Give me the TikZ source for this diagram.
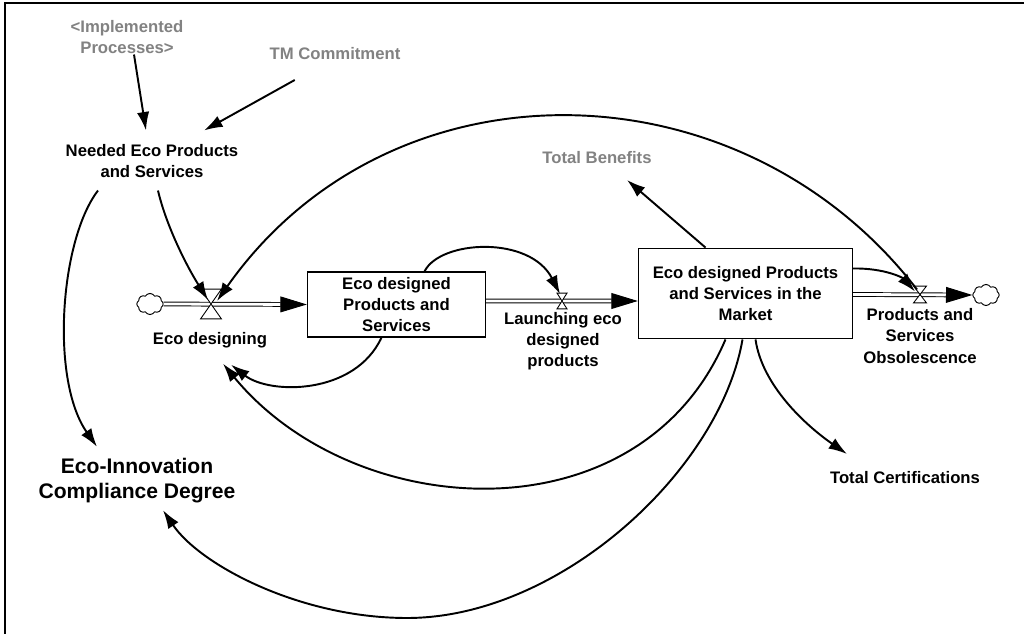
\documentclass[tikz,border=0pt]{standalone}
\usepackage{fontspec}
\setmainfont{Liberation Sans}
\usetikzlibrary{arrows.meta,calc,shapes.symbols}
\definecolor{labelgray}{RGB}{130,130,130}
\tikzset{
  lbl/.style={font=\bfseries\fontsize{9.5}{12}\selectfont, align=center, inner sep=2pt},
  aux/.style={lbl, text=labelgray},
  big/.style={font=\bfseries\fontsize{12}{14.2}\selectfont, align=center, inner sep=2pt},
  stock/.style={lbl, draw, line width=0.6pt},
  link/.style={line width=1.1pt, -{Latex[length=10.5pt,width=7pt]}},
  pipe/.style={double, double distance=1.6pt, line width=0.55pt, -{Triangle[length=15pt,width=9pt]}},
  valvebox/.style={rectangle, inner sep=0pt, outer sep=0pt},
  cloudsty/.style={cloud, cloud puffs=8, cloud puff arc=120, aspect=1.25, draw, line width=0.55pt,
    inner sep=0pt, minimum width=15pt, minimum height=12pt, fill=white},
}
% hourglass-shaped flow valve: name, position, width, height
\newcommand\flowvalve[4]{%
  \node[valvebox, minimum width=#3, minimum height=#4] (#1) at (#2) {};
  \filldraw[fill=white, draw=black, line width=0.5pt]
    (#1.north west) -- (#1.north east) -- (#1.center) -- cycle
    (#1.south west) -- (#1.south east) -- (#1.center) -- cycle;}
\begin{document}
\begin{tikzpicture}[x=0.02cm, y=-0.02cm]
\useasboundingbox (0,0) rectangle (1024,634);
\fill[white] (0,0) rectangle (1024,634);
% frame
\draw[line width=0.8pt] (5,634) -- (5,3) -- (1024,3);

% variables
\node[aux] (impl) at (127,37) {<Implemented\\Processes>};
\node[aux] (tm) at (335,54) {TM Commitment};
\node[lbl] (needed) at (152,161) {Needed Eco Products\\and Services};
\node[aux] (benefits) at (597,158) {Total Benefits};
\node[lbl] (cert) at (905,478) {Total Certifications};
\node[big] (compliance) at (137,481) {Eco-Innovation\\Compliance Degree};

% stocks
\node[stock, minimum width=101.5pt, minimum height=37pt] (box1) at (396.5,304.5)
  {Eco designed\\Products and\\Services};
\node[stock, minimum width=122pt, minimum height=51.7pt] (box2) at (745.5,293.5)
  {Eco designed Products\\and Services in the\\Market};

% source and sink
\node[cloudsty] (srcL) at (150,304) {};
\node[cloudsty] (sinkR) at (986,295) {};

% flow labels
\node[lbl] (ecod) at (210,340) {Eco designing};
\node[lbl] (launch) at (563,341) {Launching eco\\designed\\products};
\node[lbl] (obsol) at (920,336) {Products and\\Services\\Obsolescence};

% pipes
\draw[pipe] (srcL.east) -- (box1.west);
\draw[pipe] ($(box1.east)+(0,-3.5)$) -- ($(box2.west)+(0,7.5)$);
\draw[pipe] ($(box2.east)+(0,1)$) -- (sinkR.west);

% valves
\flowvalve{v1}{211,304}{11.9pt}{17pt}
\flowvalve{v2}{562,301}{5.7pt}{9pt}
\flowvalve{v3}{920,294.5}{7.4pt}{9.6pt}

% causal links
\draw[link] ($(impl.south)+(7,-3)$) -- ($(needed.north)+(-6,-10)$);
\draw[link] ($(tm.south west)+(29,16)$) -- ($(needed.north east)+(-38,-10)$);
\draw[link] ($(needed.south)+(6,9)$) .. controls (166,225) and (186,265) .. ($(v1.center)+(-3,-4)$);
\draw[link] ($(needed.south)+(-54,9)$) .. controls (60,240) and (50,380) .. ($(compliance.north)+(-40,-8)$);
\draw[link] ($(v3.center)+(-3,-5)$) .. controls (740,60) and (390,55) .. ($(v1.center)+(6,-3)$);
\draw[link] ($(box1.north)+(28,0)$) .. controls (440,240) and (530,235) .. ($(v2.north)+(-2,1)$);
\draw[link] ($(box1.south)+(-15,0)$) .. controls (355,395) and (270,395) .. ($(ecod.south)+(21,13)$);
\draw[link] ($(box2.south)+(-20,0)$) .. controls (640,540) and (355,524) .. ($(ecod.south)+(13,12)$);
\draw[link] ($(box2.south)+(-3,0)$) .. controls (720,470) and (560,618) .. (407,618)
  .. controls (300,618) and (200,565) .. ($(compliance.south)+(26,3)$);
\draw[link] ($(box2.south)+(10,0)$) .. controls (762,385) and (805,425) .. ($(cert.north)+(-58,-14)$);
\draw[link] ($(box2.north)+(-40,0)$) -- ($(benefits.south)+(30,12)$);
\draw[link] ($(box2.east)+(0,-25)$) .. controls (885,268) and (903,278) .. ($(v3.center)+(-5,-3)$);
\end{tikzpicture}
\end{document}
